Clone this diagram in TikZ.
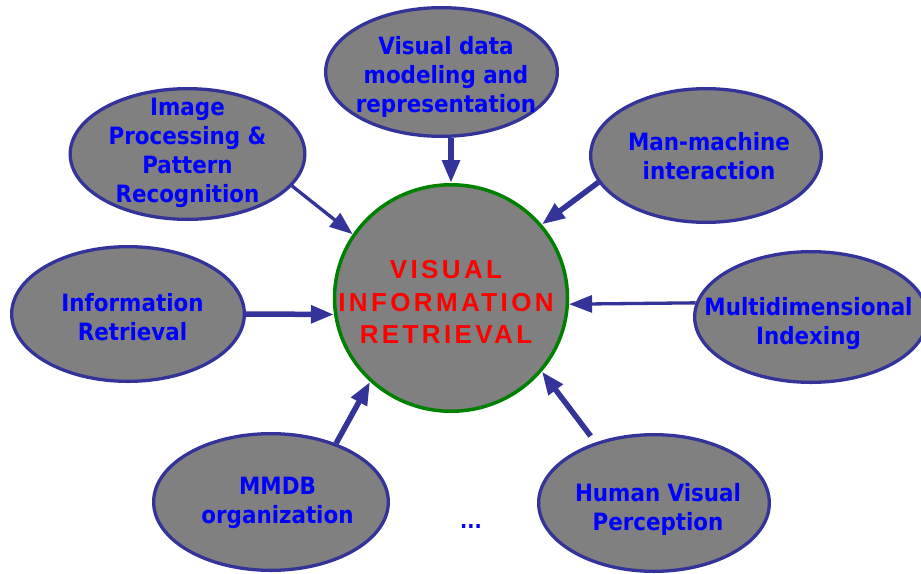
\documentclass[tikz,border=0pt]{standalone}
\usepackage{fontspec}
\setmainfont{DejaVu Sans Condensed}
\newfontfamily\ctrfont[LetterSpace=13]{Liberation Sans}
\usetikzlibrary{shapes.geometric,arrows.meta}
\definecolor{edgeblue}{HTML}{333399}
\definecolor{topicgray}{HTML}{808080}
\definecolor{txtblue}{HTML}{0000FF}
\definecolor{ctrred}{HTML}{FF0000}
\definecolor{ctrgreen}{HTML}{008000}
\tikzset{
  topic/.style={ellipse, draw=edgeblue, line width=3.3pt, fill=topicgray, inner sep=0pt},
  lbl/.style={text=txtblue, font=\bfseries\fontsize{23.8}{29}\selectfont, align=center, inner sep=0pt},
  arr/.style={draw=edgeblue, -{Triangle[length=23pt,width=17pt]}},
  thickarr/.style={arr, line width=5.5pt},
  thinarr/.style={arr, line width=3.3pt},
}
\begin{document}
\begin{tikzpicture}[x=1pt,y=-1pt]
\useasboundingbox (0,0) rectangle (921,573);
% centre
\node[ellipse, draw=ctrgreen, line width=3.5pt, fill=topicgray, inner sep=0pt,
      minimum width=233pt, minimum height=226.5pt] (c) at (451,298) {};
\node[text=ctrred, font=\ctrfont\bfseries\fontsize{26}{32.3}\selectfont, align=center, inner sep=0pt]
  (ct) at (446,302) {VISUAL\\INFORMATION\\RETRIEVAL};
% topics
\node[topic, minimum width=231.7pt, minimum height=128.7pt] (e1) at (441.5,72) {};
\node[topic, minimum width=234.7pt, minimum height=130.7pt] (e2) at (187.5,154) {};
\node[topic, minimum width=230.7pt, minimum height=133.7pt] (e3) at (706,155.5) {};
\node[topic, minimum width=232.7pt, minimum height=134.7pt] (e4) at (128,314) {};
\node[topic, minimum width=232.7pt, minimum height=130.7pt] (e5) at (811,317) {};
\node[topic, minimum width=234.7pt, minimum height=136.7pt] (e6) at (271,502) {};
\node[topic, minimum width=230.7pt, minimum height=136.7pt] (e7) at (654,503) {};
% labels
\node[lbl] (t1) at (446,77) {Visual data\\modeling and\\representation};
\node[lbl] (t2) at (187.5,153) {Image\\Processing \&\\Pattern\\Recognition};
\node[lbl] (t3) at (709,156.5) {Man-machine\\interaction};
\node[lbl] (t4) at (132.5,317) {Information\\Retrieval};
\node[lbl] (t5) at (808.5,323.5) {Multidimensional\\Indexing};
\node[lbl] (t6) at (277.5,503) {MMDB\\organization};
\node[lbl] (t7) at (658,509.5) {Human Visual\\Perception};
\node[text=txtblue, font=\bfseries\fontsize{21}{24}\selectfont, anchor=base, inner sep=0pt] (dots) at (471,528) {...};
% arrows
\draw[thickarr] (e1.south -| c.north) -- (c.north);
\draw[thinarr] (e2.-17.2) -- (c.147.2);
\draw[thickarr] (e3.194.2) -- (c.39.2);
\draw[thickarr] (e4.east) -- (c.188);
\draw[thinarr] (e5.173.4) -- (c.-3);
\draw[thickarr] (e6.42.7) -- (c.226.8);
\draw[thickarr, shorten <=8pt] (e7.134) -- (c.-39.6);
\end{tikzpicture}
\end{document}
